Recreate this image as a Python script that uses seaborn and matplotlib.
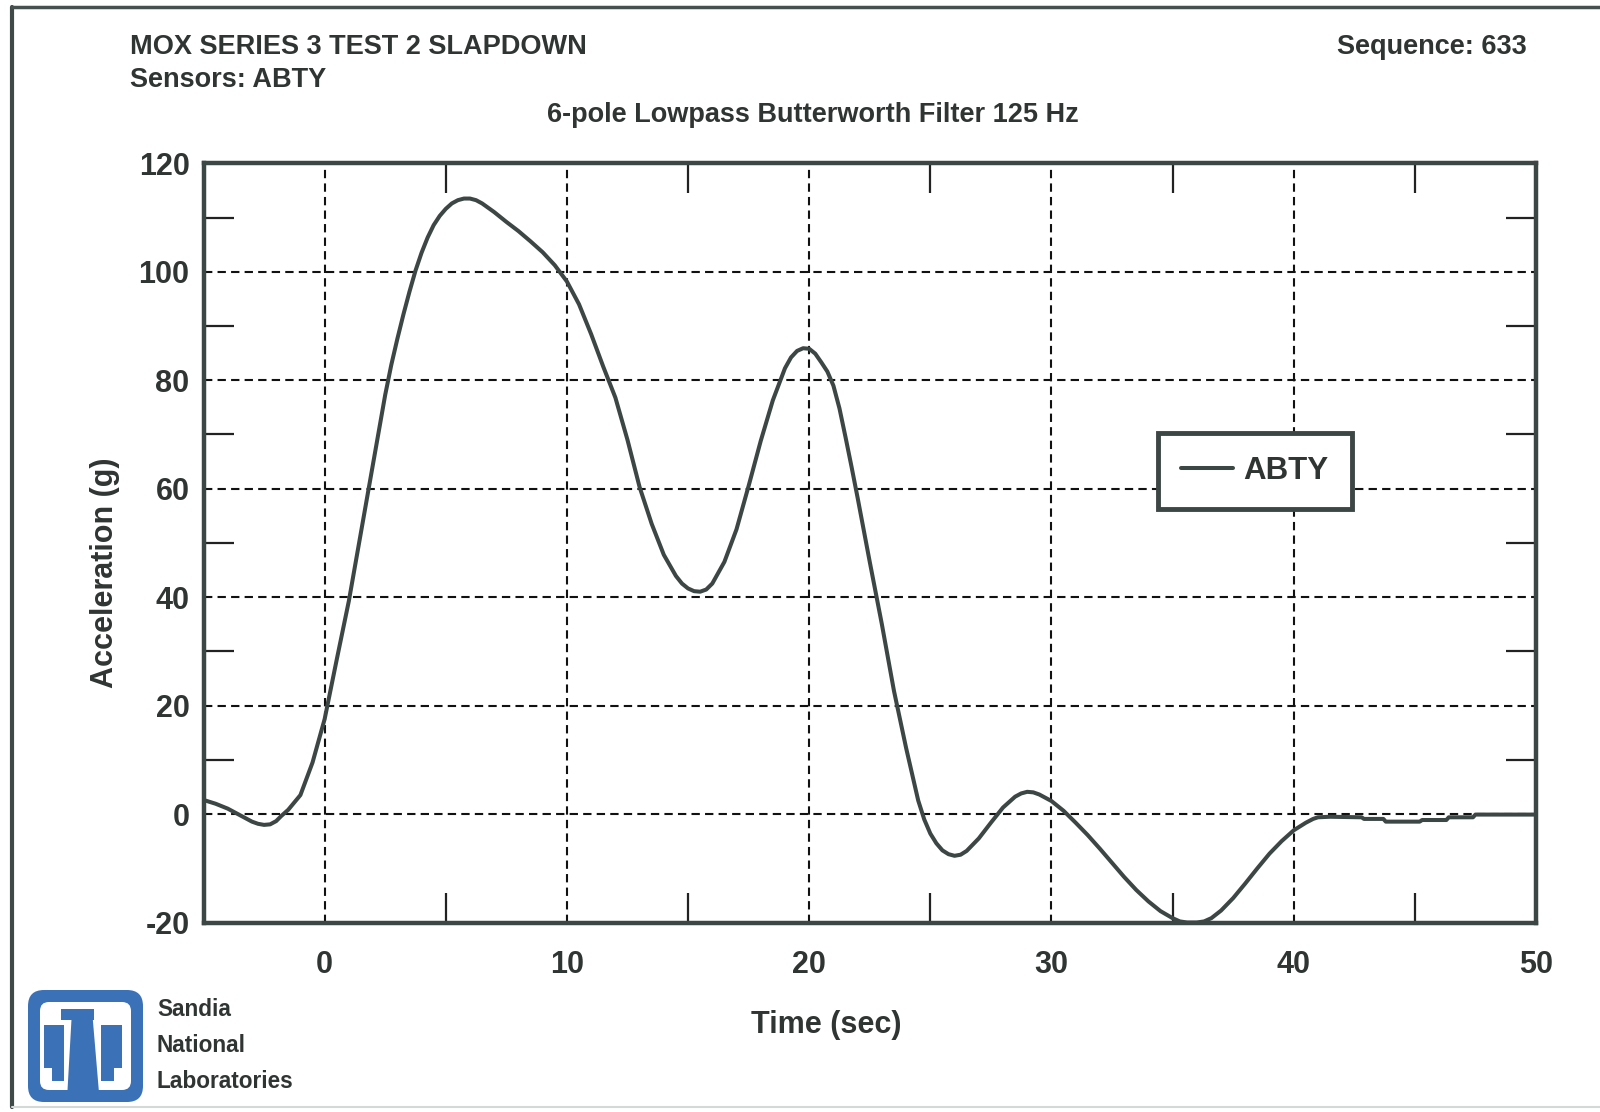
import numpy as np
import pandas as pd
import matplotlib
matplotlib.use("Agg")
import matplotlib.pyplot as plt
from matplotlib.patches import FancyBboxPatch, Polygon
from matplotlib.lines import Line2D
import seaborn as sns

# ---------------- data ----------------
time_sec = [-5.0, -4.5, -4.0, -3.5, -3.0, -2.75, -2.5, -2.25, -2.0, -1.8, -1.5, -1.0, -0.5, 0.0,
            0.5, 1.0, 1.5, 2.0, 2.5, 2.75, 3.0, 3.25, 3.5, 3.75, 4.0, 4.25, 4.5, 4.75, 5.0,
            5.25, 5.5, 5.75, 6.0, 6.25, 6.5,
            7.0, 7.5, 8.0, 8.5, 9.0, 9.5, 10.0, 10.5, 11.0, 11.5, 12.0, 12.5,
            13.0, 13.5, 14.0, 14.5, 14.75, 15.0, 15.25, 15.5, 15.75, 16.0, 16.5, 17.0, 17.5, 18.0,
            18.5, 19.0, 19.25, 19.5, 19.75, 20.0, 20.25, 20.5, 20.75, 21.0, 21.25, 21.5, 21.75,
            22.0, 22.5, 23.0, 23.5,
            24.0, 24.5, 24.75, 25.0, 25.25, 25.5, 25.75, 26.0, 26.25, 26.5, 27.0, 27.5, 28.0,
            28.5, 28.75, 29.0, 29.25, 29.5, 30.0, 30.5, 31.0, 31.5, 32.0, 32.5, 33.0, 33.5, 34.0,
            34.5, 35.0, 35.3, 35.6, 36.0, 36.3, 36.6, 37.0, 37.5, 38.0, 38.5, 39.0, 39.5, 40.0,
            40.5, 40.8, 41.0, 41.5, 42.8, 42.9, 43.7, 43.8, 45.2, 45.3, 46.3, 46.4,
            47.4, 47.5, 50.0]
accel_g = [2.6, 1.9, 1.0, -0.2, -1.4, -1.8, -2.0, -1.9, -1.3, -0.4, 0.8, 3.5, 9.5, 17.5,
           28.5, 39.3, 52.0, 64.8, 77.3, 82.8, 87.6, 92.1, 96.3, 100.2, 103.5, 106.3, 108.6, 110.3, 111.6,
           112.6, 113.2, 113.5, 113.5, 113.2, 112.6,
           111.0, 109.2, 107.5, 105.6, 103.6, 101.2, 98.2, 94.0, 88.5, 82.5, 76.8, 69.0,
           60.3, 53.5, 47.8, 43.9, 42.5, 41.6, 41.1, 41.0, 41.4, 42.5, 46.5, 52.5, 60.5, 68.8,
           76.3, 82.2, 84.2, 85.4, 85.9, 85.8, 84.9, 83.3, 81.6, 79.0, 74.8, 69.5, 64.0,
           58.3, 46.5, 35.0, 22.7,
           12.2, 2.5, -1.0, -3.6, -5.4, -6.7, -7.4, -7.7, -7.5, -6.8, -4.5, -1.6, 1.2,
           3.2, 3.8, 4.1, 4.0, 3.6, 2.4, 0.6, -1.6, -3.9, -6.4, -9.0, -11.6, -14.0, -16.1,
           -17.9, -19.2, -19.8, -20.0, -20.0, -19.8, -19.2, -17.8, -15.5, -12.8, -10.0, -7.3, -5.0, -3.0,
           -1.6, -0.9, -0.6, -0.5, -0.6, -0.9, -0.9, -1.4, -1.4, -1.1, -1.1, -0.6,
           -0.6, -0.1, -0.1]
series_name = "ABTY"

x_tick_labels = [0, 10, 20, 30, 40, 50]
x_minor_ticks = [5, 15, 25, 35, 45]
y_tick_labels = [-20, 0, 20, 40, 60, 80, 100, 120]
y_minor_ticks = [10, 30, 50, 70, 90, 110]

title_main = "MOX SERIES 3 TEST 2 SLAPDOWN"
title_sensors = "Sensors: ABTY"
title_sequence = "Sequence: 633"
subtitle = "6-pole Lowpass Butterworth Filter 125 Hz"
x_label = "Time (sec)"
y_label = "Acceleration (g)"
org_lines = ["Sandia", "National", "Laboratories"]

# ---------------- style ----------------
sns.set_theme(style="white")
plt.rcParams["font.family"] = ["Liberation Sans", "DejaVu Sans"]
plt.rcParams["font.weight"] = "bold"

TEXT = "#2f3533"
LINE = "#3c4644"
GRID = "#111111"
BLUE = "#3b71b7"

W, H = 1600, 1112
fig = plt.figure(figsize=(W / 100, H / 100), dpi=100)
fig.patch.set_facecolor("white")

# overlay in pixel coordinates for page decoration
deco = fig.add_axes([0, 0, 1, 1], zorder=0)
deco.set_xlim(0, W)
deco.set_ylim(H, 0)
deco.axis("off")

# page frame
deco.add_line(Line2D([12, 12], [7, 1107], color="#3f4947", lw=3.0))
deco.add_line(Line2D([12, W], [7, 7], color="#46504e", lw=2.5))
deco.add_line(Line2D([12, W], [1107, 1107], color="#d3d9d7", lw=1.5))

# logo (outer rounded square, inner white, thunderbird)
deco.add_patch(FancyBboxPatch((28 + 16, 990 + 16), 115 - 32, 112 - 32,
                              boxstyle="round,pad=16", fc=BLUE, ec="none"))
deco.add_patch(FancyBboxPatch((40 + 9, 1002 + 9), 91 - 18, 88 - 18,
                              boxstyle="round,pad=9", fc="white", ec="none"))


def lp(pts):
    return [(28 + (px - 45) * 115 / 325, 990 + (py - 25) * 112 / 315) for px, py in pts]


bird = [
    [(138, 78), (232, 78), (232, 108), (138, 108)],
    [(168, 106), (228, 106), (246, 318), (156, 318)],
    [(90, 124), (148, 124), (148, 282), (114, 282), (114, 244), (90, 244)],
    [(252, 124), (310, 124), (310, 244), (288, 244), (288, 282), (252, 282)],
]
for poly in bird:
    deco.add_patch(Polygon(lp(poly), closed=True, fc=BLUE, ec="none"))

for i, t in enumerate(org_lines):
    fig.text(157 / W, 1 - (1009 + 36 * i) / H, t, fontsize=16.3, fontweight="bold",
             color=TEXT, ha="left", va="center")

# titles
fig.text(130 / W, 1 - 47 / H, title_main, fontsize=19.5, fontweight="bold",
         color=TEXT, ha="left", va="center")
fig.text(130 / W, 1 - 80 / H, title_sensors, fontsize=19.5, fontweight="bold",
         color=TEXT, ha="left", va="center")
fig.text(1527 / W, 1 - 47 / H, title_sequence, fontsize=19.5, fontweight="bold",
         color=TEXT, ha="right", va="center")
fig.text(813 / W, 1 - 115 / H, subtitle, fontsize=19.5, fontweight="bold",
         color=TEXT, ha="center", va="center")

# ---------------- main chart ----------------
left, right, top, bottom = 203.5, 1536, 163.3, 922.5
ax = fig.add_axes([left / W, 1 - bottom / H, (right - left) / W, (bottom - top) / H], zorder=2)
ax.set_facecolor("none")

df = pd.DataFrame({"Time (sec)": time_sec, "Acceleration (g)": accel_g})
sns.lineplot(data=df, x="Time (sec)", y="Acceleration (g)", ax=ax, color=LINE,
             linewidth=2.9, estimator=None, sort=False, label=series_name, zorder=3)
ax.lines[0].set_solid_joinstyle("round")

ax.set_xlim(-5, 50)
ax.set_ylim(-20, 120)
ax.set_xticks(x_tick_labels)
ax.set_xticklabels([str(v) for v in x_tick_labels])
ax.set_yticks(y_tick_labels)
ax.set_yticklabels([str(v) for v in y_tick_labels])
ax.set_xticks(x_minor_ticks, minor=True)
ax.set_yticks(y_minor_ticks, minor=True)

ax.tick_params(axis="x", which="major", length=0, labelsize=22, pad=20, labelcolor=TEXT)
ax.tick_params(axis="y", which="major", length=0, labelsize=22, pad=10, labelcolor=TEXT)
ax.tick_params(axis="both", which="minor", direction="in", length=21.5, width=1.6,
               color="#222222", top=True, right=True, bottom=True, left=True)
for lab in ax.get_xticklabels() + ax.get_yticklabels():
    lab.set_fontweight("bold")

ax.grid(True, which="major", color=GRID, linestyle=(0, (4, 2.5)), linewidth=1.5)
ax.set_axisbelow(True)

for sp in ax.spines.values():
    sp.set_visible(True)
    sp.set_color(LINE)
    sp.set_linewidth(3.2)

ax.set_xlabel(x_label, fontsize=22, fontweight="bold", color=TEXT, va="center")
ax.set_ylabel(y_label, fontsize=22, fontweight="bold", color=TEXT, va="center")
ax.xaxis.set_label_coords((826 - left) / (right - left), (bottom - 1025) / (bottom - top))
ax.yaxis.set_label_coords((105 - left) / (right - left), (bottom - 573) / (bottom - top))

leg = ax.legend(loc="center", bbox_to_anchor=((1255 - left) / (right - left), (bottom - 471) / (bottom - top)),
                frameon=True, fancybox=False, framealpha=1, edgecolor=LINE,
                borderpad=0.75, handlelength=1.65, handletextpad=0.35,
                prop={"size": 22.5, "weight": "bold"}, labelcolor=TEXT)
leg.get_frame().set_linewidth(3.5)
leg.set_zorder(5)

fig.savefig("out.png", dpi=100, facecolor="white")
